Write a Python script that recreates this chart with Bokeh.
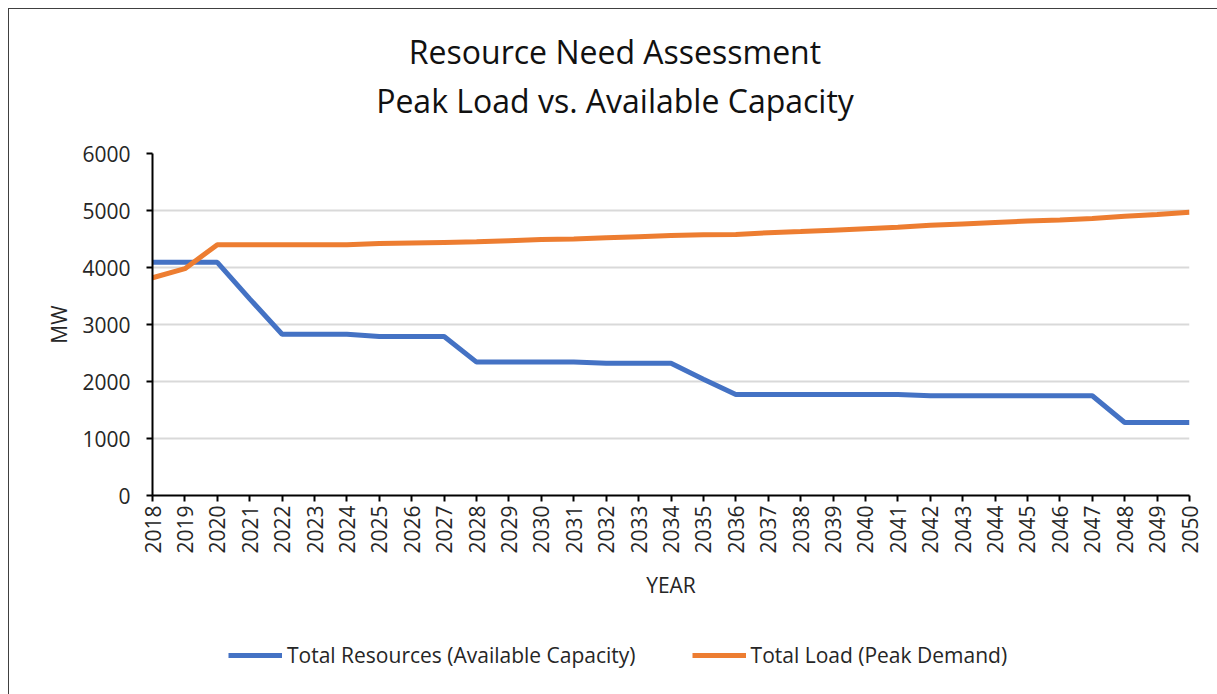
import math
from bokeh.plotting import figure
from bokeh.layouts import column
from bokeh.models import FixedTicker, Legend, LegendItem, Range1d, Title
from bokeh.embed import file_html
from bokeh.resources import INLINE

years = list(range(2018, 2051))
total_resources = [4090, 4090, 4090, 3450, 2830, 2830, 2830, 2790, 2790, 2790,
                   2340, 2340, 2340, 2340, 2320, 2320, 2320, 2040, 1770, 1770,
                   1770, 1770, 1770, 1770, 1750, 1750, 1750, 1750, 1750, 1750,
                   1280, 1280, 1280]
total_load = [3820, 3980, 4400, 4400, 4400, 4400, 4400, 4420, 4430, 4440,
              4450, 4470, 4490, 4500, 4520, 4540, 4560, 4575, 4580, 4610,
              4630, 4655, 4680, 4705, 4740, 4765, 4790, 4815, 4835, 4860,
              4900, 4930, 4970]
y_ticks = [0, 1000, 2000, 3000, 4000, 5000, 6000]
series_names = ["Total Resources (Available Capacity)", "Total Load (Peak Demand)"]
series_colors = ["#4472C4", "#ED7D31"]
title_lines = ["Resource Need Assessment", "Peak Load vs. Available Capacity"]

FONT = "Open Sans"
TXT = "#262626"

p = figure(width=1208, height=600, output_backend="svg", toolbar_location=None,
           title=None,
           x_range=Range1d(2018, 2050), y_range=Range1d(0, 6000),
           min_border_left=143, min_border_right=28, min_border_top=144,
           min_border_bottom=114)

# two title lines, each centred on the whole chart; the one added first sits closest to the plot
for text, pad_bottom in [(title_lines[1], 32), (title_lines[0], 4)]:
    p.add_layout(Title(text=text, align="center", text_font=FONT, text_font_size="32px",
                       text_font_style="normal", text_color="#111111", standoff=0,
                       padding=(0, 112, 0, pad_bottom)),
                 "above")

p.outline_line_color = None
p.background_fill_color = "white"
p.border_fill_color = "white"

p.line(years, total_resources, line_color=series_colors[0], line_width=5)
p.line(years, total_load, line_color=series_colors[1], line_width=5)

# axes
p.xaxis.ticker = FixedTicker(ticks=years)
p.xaxis.major_label_orientation = math.pi / 2
p.yaxis.ticker = FixedTicker(ticks=y_ticks)
for ax in (p.xaxis, p.yaxis):
    ax.axis_line_color = "black"
    ax.axis_line_width = 2
    ax.major_tick_line_color = "black"
    ax.major_tick_line_width = 2
    ax.major_tick_out = 6
    ax.major_tick_in = 0
    ax.minor_tick_line_color = None
    ax.major_label_text_font = FONT
    ax.major_label_text_font_size = "21px"
    ax.major_label_text_color = TXT
    ax.axis_label_text_font = FONT
    ax.axis_label_text_font_size = "21px"
    ax.axis_label_text_font_style = "normal"
    ax.axis_label_text_color = TXT
p.xaxis.axis_label = "YEAR"
p.yaxis.axis_label = "MW"
p.xaxis.major_label_standoff = 4
p.yaxis.major_label_standoff = 16
p.xaxis.axis_label_standoff = 14
p.yaxis.axis_label_standoff = 6

p.xgrid.grid_line_color = None
p.ygrid.grid_line_color = "#d9d9d9"
p.ygrid.grid_line_width = 2

# legend strip below the chart (series drawn out of view, used as legend proxies)
q = figure(width=1208, height=85, output_backend="svg", toolbar_location=None,
           x_axis_type=None, y_axis_type=None, min_border=0,
           x_range=Range1d(2018, 2050), y_range=Range1d(-2000, -1000))
q.outline_line_color = None
q.background_fill_color = "white"
q.border_fill_color = "white"
items = []
for name, col, vals in zip(series_names, series_colors, [total_resources, total_load]):
    r = q.line(years, vals, line_color=col, line_width=5)
    items.append(LegendItem(label=name, renderers=[r]))
legend = Legend(items=items, orientation="horizontal", location=(76, 25),
                label_text_font=FONT, label_text_font_size="21px", label_text_color=TXT,
                glyph_width=54, label_standoff=5, spacing=56, padding=0, margin=0,
                border_line_color=None, background_fill_alpha=0)
q.add_layout(legend, "center")

inner = column(p, q, spacing=0,
               styles={"border-top": "1px solid #404040", "border-left": "1px solid #404040"})
root = column(inner, styles={"padding-left": "8px", "padding-top": "8px"})

open("out.html", "w").write(file_html(root, INLINE))
